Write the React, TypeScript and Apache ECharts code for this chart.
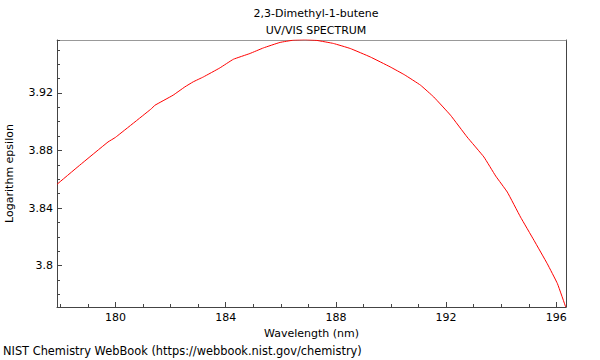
import React, { useEffect, useRef } from "react";
import * as echarts from "echarts";

const chartTitle = "2,3-Dimethyl-1-butene\nUV/VIS SPECTRUM";
const xName = "Wavelength (nm)";
const yName = "Logarithm epsilon";
const footer = "NIST Chemistry WebBook (https://webbook.nist.gov/chemistry)";

const xRange = [177.88, 196.35];
const yRange = [3.7712, 3.9568];
const xMajorStep = 4;
const xMinorStep = 1;
const yMajorStep = 0.04;
const yMinorStep = 0.01;

const wavelengths = [
  177.88, 178.7, 179.73, 180.0, 181.31, 181.43, 182.09, 182.52, 182.82, 183.19,
  183.79, 184.28, 184.88, 185.37, 185.97, 186.46, 186.88, 187.31, 187.91, 188.52,
  189.25, 189.97, 190.5, 191.07, 191.55, 192.16, 192.76, 193.37, 193.8, 194.22,
  194.7, 195.19, 195.67, 196.04, 196.34,
];
const logEpsilon = [
  3.8565, 3.8697, 3.8859, 3.8891, 3.9091, 3.9114, 3.9184, 3.9242, 3.9277, 3.9311,
  3.9374, 3.9434, 3.9474, 3.9513, 3.9551, 3.9567, 3.957, 3.9565, 3.9544, 3.9509,
  3.945, 3.9381, 3.9325, 3.9254, 3.9172, 3.9045, 3.8894, 3.8755, 3.8622, 3.8511,
  3.8337, 3.8175, 3.8013, 3.7874, 3.7711,
];

const FONT = "DejaVu Sans";
const AXIS_COLOR = "#444";

export default function App() {
  const ref = useRef<HTMLDivElement>(null);
  useEffect(() => {
    if (!ref.current) return;
    const chart = echarts.init(ref.current, null, { renderer: "svg" });
    const data = wavelengths.map((w, i) => [w, logEpsilon[i]]);
    const textStyle = { color: "#000", fontSize: 11, fontFamily: FONT };
    chart.setOption({
      animation: false,
      backgroundColor: "#fff",
      textStyle: { fontFamily: FONT },
      title: {
        text: chartTitle,
        left: 311,
        textAlign: "center",
        top: 0,
        textStyle: { ...textStyle, fontWeight: "normal", lineHeight: 17 },
      },
      grid: { left: 57, right: 34, top: 40, bottom: 53, containLabel: false, outerBoundsMode: "none" },
      xAxis: [
        {
          type: "value",
          min: xRange[0],
          max: xRange[1],
          minInterval: xMajorStep,
          maxInterval: xMajorStep,
          position: "bottom",
          name: xName,
          nameLocation: "middle",
          nameGap: 18,
          nameTextStyle: textStyle,
          axisLine: { show: true, lineStyle: { color: AXIS_COLOR } },
          axisTick: { show: true, inside: true, length: 5, lineStyle: { color: AXIS_COLOR } },
          axisLabel: { ...textStyle, margin: 5, showMinLabel: false, showMaxLabel: false },
          splitLine: { show: false },
        },
        {
          type: "value",
          min: xRange[0],
          max: xRange[1],
          minInterval: xMinorStep,
          maxInterval: xMinorStep,
          position: "bottom",
          axisLine: { show: false },
          axisTick: { show: true, inside: true, length: 3, lineStyle: { color: AXIS_COLOR } },
          axisLabel: { show: false },
          splitLine: { show: false },
        },
        {
          type: "value",
          min: xRange[0],
          max: xRange[1],
          position: "top",
          axisLine: { show: true, lineStyle: { color: "#999" } },
          axisTick: { show: false },
          axisLabel: { show: false },
          splitLine: { show: false },
        },
      ],
      yAxis: [
        {
          type: "value",
          min: yRange[0],
          max: yRange[1],
          minInterval: yMajorStep,
          maxInterval: yMajorStep,
          position: "left",
          name: yName,
          nameLocation: "middle",
          nameGap: 42,
          nameTextStyle: textStyle,
          axisLine: { show: true, lineStyle: { color: AXIS_COLOR } },
          axisTick: { show: true, inside: true, length: 5, lineStyle: { color: AXIS_COLOR } },
          axisLabel: { ...textStyle, margin: 4, showMinLabel: false, showMaxLabel: false },
          splitLine: { show: false },
        },
        {
          type: "value",
          min: yRange[0],
          max: yRange[1],
          minInterval: yMinorStep,
          maxInterval: yMinorStep,
          position: "left",
          axisLine: { show: false },
          axisTick: { show: true, inside: true, length: 3, lineStyle: { color: AXIS_COLOR } },
          axisLabel: { show: false },
          splitLine: { show: false },
        },
        {
          type: "value",
          min: yRange[0],
          max: yRange[1],
          position: "right",
          axisLine: { show: true, lineStyle: { color: AXIS_COLOR } },
          axisTick: { show: false },
          axisLabel: { show: false },
          splitLine: { show: false },
        },
      ],
      graphic: [
        {
          type: "text",
          left: 3,
          top: 345,
          style: { text: footer, fill: "#000", font: `11.4px "${FONT}"` },
        },
      ],
      series: [
        {
          type: "line",
          data,
          xAxisIndex: 0,
          yAxisIndex: 0,
          showSymbol: false,
          smooth: 0.1,
          lineStyle: { color: "#ff0000", width: 1 },
        },
      ],
    });
    return () => chart.dispose();
  }, []);
  return <div ref={ref} style={{ width: 600, height: 360, position: "fixed", left: 0, top: 0 }} />;
}
